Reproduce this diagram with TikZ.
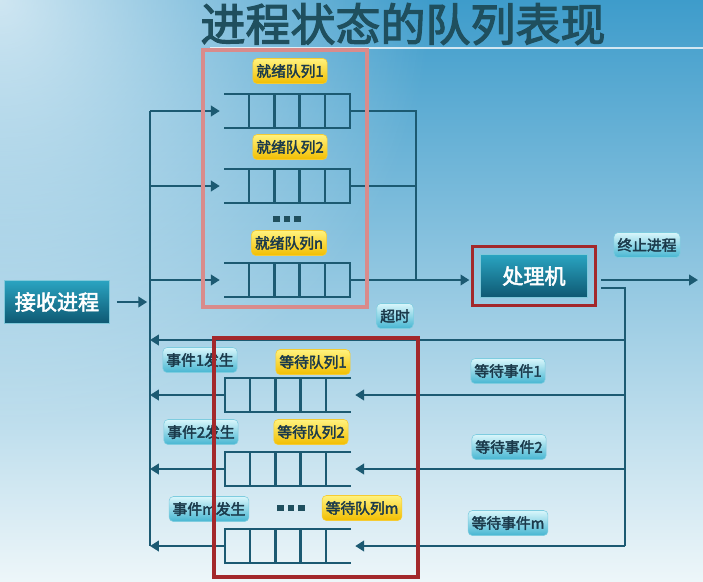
\documentclass[tikz,border=0pt]{standalone}
\usepackage{fontspec}
\setmainfont{Noto Sans CJK SC}[AutoFakeBold=2.5]
\usetikzlibrary{arrows.meta, positioning, calc, fit, fadings}
\definecolor{SlideTop}{HTML}{3E9CCB}
\definecolor{SlideMid}{HTML}{84C4DF}
\definecolor{SlideBot}{HTML}{EDF6F9}
\definecolor{TitleTeal}{HTML}{1F4F5E}
\definecolor{WireTeal}{HTML}{1C5A72}
\definecolor{TagText}{HTML}{1B3A4B}
\definecolor{TagYellowTop}{HTML}{FFF27E}
\definecolor{TagYellowBot}{HTML}{F2BE00}
\definecolor{TagCyanTop}{HTML}{D9F6FB}
\definecolor{TagCyanBot}{HTML}{46B6D2}
\definecolor{BoxTealTop}{HTML}{2AA4C1}
\definecolor{BoxTealBot}{HTML}{0E5872}
\definecolor{ReadyPink}{HTML}{D98B8B}
\definecolor{WaitRed}{HTML}{A3282B}
\tikzfading[name=glowcorner, inner color=transparent!25, outer color=transparent!100]

% one queue: name, x, y; ready queues are closed on the right
\newcommand{\readyqueue}[3]{%
  \node[qbody] (#1) at (#2,#3) {};
  \draw[qline] (#1.north west) -- (#1.north east) -- (#1.south east) -- (#1.south west);
  \foreach \k in {1,...,4}
    \draw[qline] ($(#1.north west)!\k/5!(#1.north east)$) -- ($(#1.south west)!\k/5!(#1.south east)$);
}
% waiting queues are closed on the left
\newcommand{\waitqueue}[3]{%
  \node[qbody] (#1) at (#2,#3) {};
  \draw[qline] (#1.north east) -- (#1.north west) -- (#1.south west) -- (#1.south east);
  \foreach \k in {1,...,4}
    \draw[qline] ($(#1.north west)!\k/5!(#1.north east)$) -- ($(#1.south west)!\k/5!(#1.south east)$);
}
\newcommand{\bigdots}{\rule{4.5pt}{4.5pt}\hspace{3pt}\rule{4.5pt}{4.5pt}\hspace{3pt}\rule{4.5pt}{4.5pt}}

\begin{document}
\begin{tikzpicture}[
    x=0.025cm, y=-0.025cm,
    qbody/.style={rectangle, inner sep=0pt, outer sep=0pt,
      minimum width={126*0.025cm}, minimum height={34*0.025cm}},
    qline/.style={draw=WireTeal, line width=1.8pt},
    wire/.style={draw=WireTeal, line width=1.8pt},
    arr/.style={wire, -{Triangle[length=2.2mm, width=2.6mm]}},
    yellowtag/.style={rectangle, rounded corners=3pt, top color=TagYellowTop, bottom color=TagYellowBot,
      draw=TagYellowBot!80!white, text=TagText, font=\fontsize{10.5}{11}\selectfont\bfseries,
      inner xsep=2.5pt, minimum height={25*0.025cm}},
    cyantag/.style={rectangle, rounded corners=3pt, top color=TagCyanTop, bottom color=TagCyanBot,
      draw=TagCyanBot!70!white, text=TagText, font=\fontsize{10.5}{11}\selectfont\bfseries,
      inner xsep=2.5pt, minimum height={25*0.025cm}},
    tealbox/.style={rectangle, top color=BoxTealTop, bottom color=BoxTealBot, draw=BoxTealTop!60!white,
      text=white, font=\fontsize{15}{16}\selectfont\bfseries, align=center},
    dots/.style={text=TitleTeal, inner sep=1pt}
  ]
    % slide background
    \useasboundingbox (0,0) rectangle (703,581);
    \shade[top color=SlideTop, middle color=SlideMid, bottom color=SlideBot] (0,0) rectangle (703,581);
    \fill[white, path fading=glowcorner] (0,0) circle (430);

    % title
    \node[text=TitleTeal, font=\fontsize{32}{34}\selectfont\bfseries] (title) at (403,24) {进程状态的队列表现};
    \draw[white, opacity=0.75, line width=1pt] (210,48) -- (703,48);

    % ready queues
    \readyqueue{rq1}{287}{111}
    \readyqueue{rq2}{287}{186}
    \readyqueue{rqn}{287}{280}
    \node[yellowtag] (rq1lbl) at (290,71) {就绪队列1};
    \node[yellowtag] (rq2lbl) at (290,147) {就绪队列2};
    \node[yellowtag] (rqnlbl) at (289,243) {就绪队列n};
    \node[dots] (rqdots) at (287,219) {\bigdots};

    % waiting queues
    \waitqueue{wq1}{288}{395}
    \waitqueue{wq2}{288}{469}
    \waitqueue{wqm}{288}{546}
    \node[yellowtag] (wq1lbl) at (313,362) {等待队列1};
    \node[yellowtag] (wq2lbl) at (311,432) {等待队列2};
    \node[yellowtag] (wqmlbl) at (362,508) {等待队列m};
    \node[dots] (wqdots) at (291,508) {\bigdots};

    % processor and receiving process
    \node[tealbox, minimum width={107*0.025cm}, minimum height={43*0.025cm}] (cpu) at (534,276) {处理机};
    \node[draw=WaitRed, line width=2pt, fit=(cpu), inner sep=0.2cm] (cpuframe) {};
    \node[tealbox, minimum width={105*0.025cm}, minimum height={43*0.025cm}] (recv) at (57,302) {接收进程};

    % bus lines
    \coordinate (lbus) at (150,0);
    \coordinate (rbus) at (416,0);
    \coordinate (exitstart) at (601,280);
    \coordinate (exit) at (698,280);
    \coordinate (retstart) at (601,288);
    \coordinate (rret) at (625,288);
    \coordinate (tmo) at (625,340);

    \draw[wire] (lbus |- rq1.west) -- (lbus |- wqm.west);
    \draw[arr, shorten <=5pt, shorten >=2pt] (recv.east) -- (lbus |- recv.east);
    \foreach \q in {rq1,rq2,rqn}
      \draw[arr, shorten >=3pt] (lbus |- \q.west) -- (\q.west);
    \draw[wire] (rq1.east) -| (rbus |- rqn.east);
    \draw[wire] (rq2.east) -- (rbus |- rq2.east);
    \draw[arr, shorten >=1pt] (rqn.east) -- (rqn.east -| cpuframe.west);
    \draw[arr] (exitstart) -- (exit);
    \draw[wire] (retstart) -- (rret) -- (rret |- wqm.east);
    \draw[arr] (tmo) -- (lbus |- tmo);
    \foreach \q in {wq1,wq2,wqm} {
      \draw[arr, shorten >=3pt] (rret |- \q.east) -- (\q.east);
      \draw[arr] (\q.west) -- (lbus |- \q.west);
    }

    % event labels
    \node[cyantag] (exitlbl) at (647,245) {终止进程};
    \node[cyantag] (tmolbl) at (395,316) {超时};
    \node[cyantag] (ev1) at (200,360) {事件1发生};
    \node[cyantag] (ev2) at (201,432) {事件2发生};
    \node[cyantag] (evm) at (209,509) {事件m发生};
    \node[cyantag] (wt1) at (508,371) {等待事件1};
    \node[cyantag] (wt2) at (509,447) {等待事件2};
    \node[cyantag] (wtm) at (508,523) {等待事件m};

    % group frames
    \draw[ReadyPink, line width=2.2pt] (203,50) rectangle (367,307);
    \draw[WaitRed, line width=2.2pt] (214,338) rectangle (418,577);
  \end{tikzpicture}
\end{document}
